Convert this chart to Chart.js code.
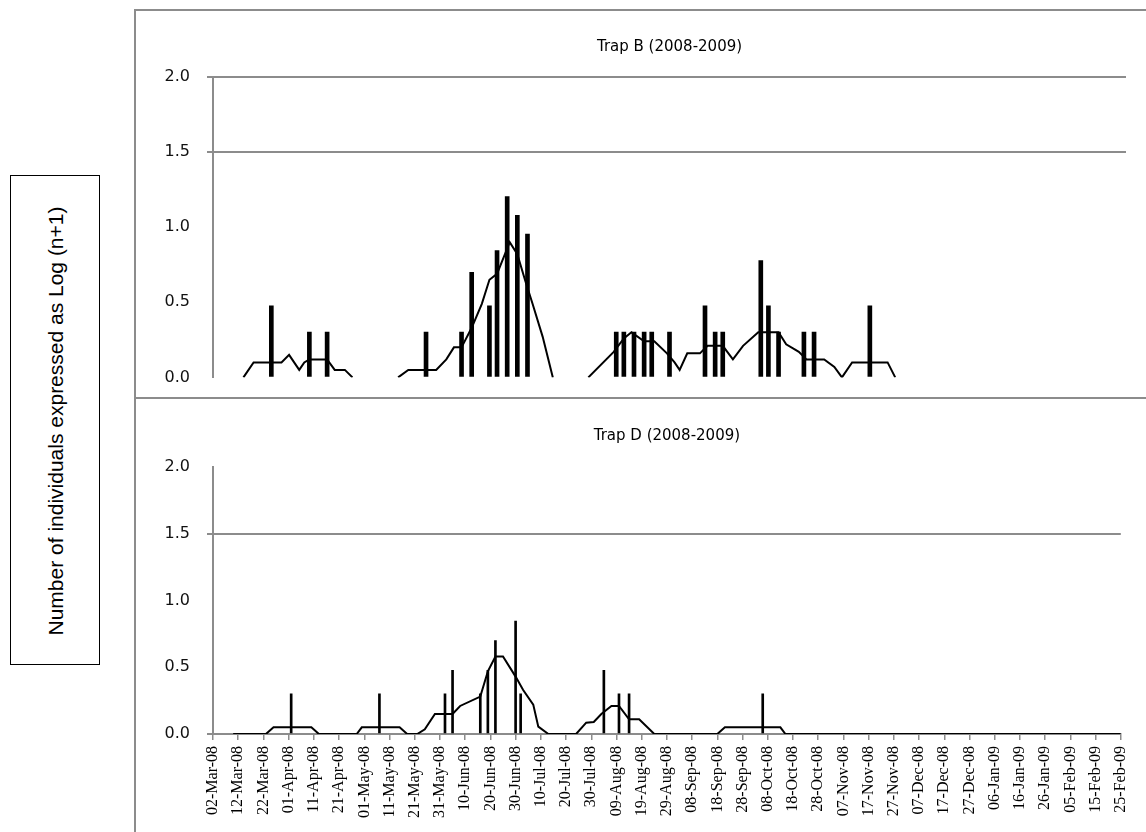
<!DOCTYPE html>
<html>
<head>
<meta charset="utf-8">
<script src="https://cdn.jsdelivr.net/npm/chart.js@4.4.1/dist/chart.umd.min.js"></script>
<style>
    body { margin: 0; background: #fff; width: 1146px; height: 832px; position: relative; overflow: hidden; }
    .frame { position: absolute; left: 134px; top: 9px; width: 1012px; height: 823px; border-left: 2px solid #8c8c8c; border-top: 2px solid #8c8c8c; box-sizing: border-box; }
    .split { position: absolute; left: 134px; top: 397px; width: 1012px; height: 2px; background: #8c8c8c; }
    .ybox { position: absolute; left: 10px; top: 175px; width: 90px; height: 490px; border: 1px solid #000; box-sizing: border-box; }
    .ybox span { position: absolute; left: 45px; top: 245px; transform: translate(-50%, -50%) rotate(-90deg); white-space: nowrap; font-family: "Liberation Sans", Arial, sans-serif; font-size: 21px; color: #000; }
    canvas { position: absolute; left: 136px; }
    #trapB { top: 11px; }
    #trapD { top: 400px; }
</style>
</head>
<body>
<div class="frame"></div>
<div class="split"></div>
<div class="ybox"><span>Number of individuals expressed as Log (n+1)</span></div>
<canvas id="trapB" width="1010" height="393"></canvas>
<canvas id="trapD" width="1010" height="432"></canvas>
<script>
// x = days since 02-Mar-08, one tick label every 10 days
const dateLabels = ['02-Mar-08', '12-Mar-08', '22-Mar-08', '01-Apr-08', '11-Apr-08', '21-Apr-08', '01-May-08', '11-May-08', '21-May-08', '31-May-08',
    '10-Jun-08', '20-Jun-08', '30-Jun-08', '10-Jul-08', '20-Jul-08', '30-Jul-08', '09-Aug-08', '19-Aug-08', '29-Aug-08', '08-Sep-08',
    '18-Sep-08', '28-Sep-08', '08-Oct-08', '18-Oct-08', '28-Oct-08', '07-Nov-08', '17-Nov-08', '27-Nov-08', '07-Dec-08', '17-Dec-08',
    '27-Dec-08', '06-Jan-09', '16-Jan-09', '26-Jan-09', '05-Feb-09', '15-Feb-09', '25-Feb-09'];
const yTicks = [0, 0.5, 1, 1.5, 2];

// Trap B: catches (bars) and trend line (null = break in the line)
const trapBBarDays = [23, 38, 45, 84, 98, 102, 109, 112, 116, 120, 124, 159, 162, 166, 170, 173, 180, 194, 198, 201, 216, 219, 223, 233, 237, 259];
const trapBBarValues = [0.477, 0.301, 0.301, 0.301, 0.301, 0.699, 0.477, 0.845, 1.204, 1.079, 0.954, 0.301, 0.301, 0.301, 0.301, 0.301, 0.301, 0.477, 0.301, 0.301, 0.778, 0.477, 0.301, 0.301, 0.301, 0.477];
const trapBLineDays = [12, 16, 27, 30, 34, 36, 38, 45, 48, 52, 55, 64,
    73, 77, 88, 92, 95, 98, 102, 106, 109, 112, 117, 120, 123, 126, 130, 134, 140,
    148, 158, 162, 165, 170, 174, 179, 182, 184, 187, 192, 195, 201, 205, 209, 215, 223, 226, 231, 234, 241, 245, 248, 252, 266, 269];
const trapBLineValues = [0, 0.1, 0.1, 0.15, 0.05, 0.1, 0.12, 0.12, 0.05, 0.05, 0, null,
    0, 0.05, 0.05, 0.12, 0.2, 0.2, 0.33, 0.49, 0.65, 0.69, 0.9, 0.82, 0.65, 0.49, 0.27, 0, null,
    0, 0.17, 0.26, 0.3, 0.24, 0.24, 0.16, 0.1, 0.05, 0.16, 0.16, 0.21, 0.21, 0.12, 0.21, 0.3, 0.3, 0.22, 0.17, 0.12, 0.12, 0.07, 0, 0.1, 0.1, 0];

// Trap D
const trapDBarDays = [31, 66, 92, 95, 106, 109, 112, 120, 122, 155, 161, 165, 218];
const trapDBarValues = [0.301, 0.301, 0.301, 0.477, 0.301, 0.477, 0.699, 0.845, 0.301, 0.477, 0.301, 0.301, 0.301];
const trapDLineDays = [8, 21, 24, 39, 42, 57, 59, 74, 77, 81, 84, 88, 95, 98, 106, 109, 112, 115, 120, 123, 127, 129, 133,
    144, 148, 151, 154, 158, 161, 165, 169, 175, 200, 203, 225, 227, 360];
const trapDLineValues = [0, 0, 0.05, 0.05, 0, 0, 0.05, 0.05, 0, 0, 0.035, 0.15, 0.15, 0.21, 0.28, 0.47, 0.58, 0.58, 0.43, 0.33, 0.22, 0.055, 0,
    0, 0.085, 0.09, 0.15, 0.21, 0.21, 0.11, 0.11, 0, 0, 0.05, 0.05, 0, 0];

const GRAY = '#8c8c8c';

function points(days, values) {
    return days.map((d, i) => ({ x: d, y: values[i] }));
}

function makeChart(id, title, barDays, barValues, lineDays, lineValues, opts) {
    const gridAt = opts.gridAt;
    return new Chart(document.getElementById(id), {
        type: 'bar',
        data: {
            datasets: [
                {
                    type: 'bar',
                    data: points(barDays, barValues),
                    backgroundColor: '#000',
                    barThickness: opts.barWidth,
                    order: 2
                },
                {
                    type: 'line',
                    data: points(lineDays, lineValues),
                    borderColor: '#000',
                    borderWidth: 2,
                    pointRadius: 0,
                    tension: 0,
                    spanGaps: false,
                    order: 1
                }
            ]
        },
        options: {
            responsive: false,
            animation: false,
            layout: { padding: { top: 0, right: 20, bottom: opts.showX ? 0 : 13, left: 0 } },
            plugins: {
                legend: { display: false },
                tooltip: { enabled: false },
                title: {
                    display: true,
                    fullSize: false,
                    text: title,
                    color: '#000',
                    font: { family: 'DejaVu Sans', size: 15, weight: 'normal', lineHeight: 1.2 },
                    padding: { top: 27, bottom: opts.titleGap }
                }
            },
            scales: {
                x: {
                    type: 'linear',
                    display: opts.showX,
                    min: 0,
                    max: 360,
                    offset: false,
                    grid: { offset: false, drawOnChartArea: false, drawTicks: true, tickLength: 6, color: GRAY, lineWidth: 1.5 },
                    border: { display: true, color: GRAY, width: 2 },
                    ticks: {
                        stepSize: 10,
                        autoSkip: false,
                        minRotation: 90,
                        maxRotation: 90,
                        padding: 6,
                        color: '#000',
                        font: { family: 'Liberation Serif', size: 16 },
                        callback: v => dateLabels[Math.round(v / 10)]
                    },
                    afterFit: s => { if (opts.showX) s.height = 98; }
                },
                y: {
                    min: 0,
                    max: 2,
                    afterBuildTicks: s => { s.ticks = yTicks.map(v => ({ value: v })); },
                    grid: {
                        drawTicks: true,
                        tickLength: 6,
                        lineWidth: 2,
                        color: c => (c.tick && gridAt.includes(c.tick.value)) ? GRAY : 'rgba(0,0,0,0)'
                    },
                    border: { display: true, color: GRAY, width: 2 },
                    ticks: {
                        padding: 17,
                        color: '#111',
                        font: { family: 'DejaVu Sans', size: 16 },
                        callback: v => v.toFixed(1)
                    },
                    afterFit: s => { s.width = 77; }
                }
            }
        }
    });
}

makeChart('trapB', 'Trap B (2008-2009)', trapBBarDays, trapBBarValues, trapBLineDays, trapBLineValues,
    { gridAt: [1.5, 2], barWidth: 4, showX: false, titleGap: 21 });
makeChart('trapD', 'Trap D (2008-2009)', trapDBarDays, trapDBarValues, trapDLineDays, trapDLineValues,
    { gridAt: [0, 1.5], barWidth: 2, showX: true, titleGap: 22 });
</script>
</body>
</html>
